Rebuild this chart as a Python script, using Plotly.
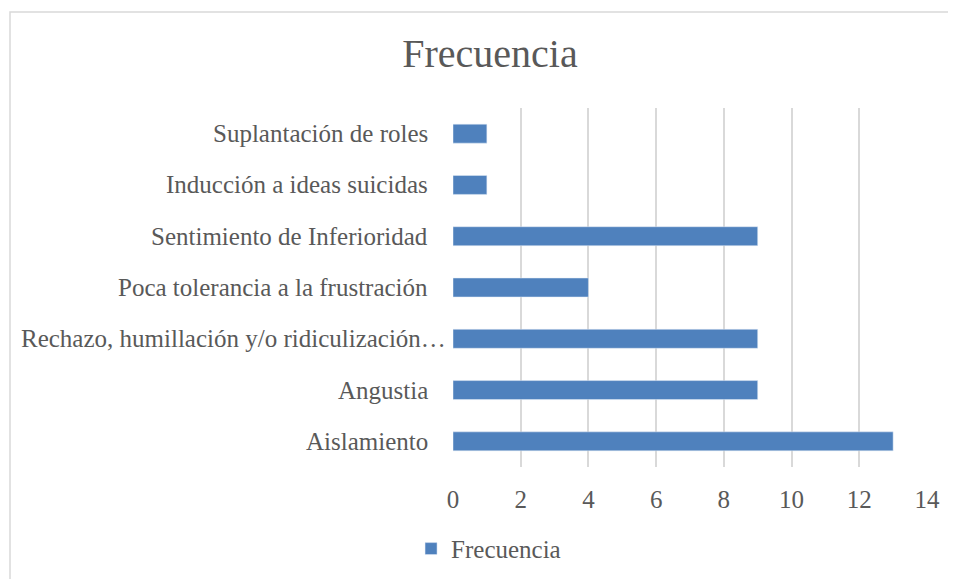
import plotly.graph_objects as go

categorias = [
    "Aislamiento",
    "Angustia",
    "Rechazo, humillación y/o ridiculización…",
    "Poca tolerancia a la frustración",
    "Sentimiento de Inferioridad",
    "Inducción a ideas suicidas",
    "Suplantación de roles",
]
frecuencia = [13, 9, 9, 4, 9, 1, 1]
ticks_x = [0, 2, 4, 6, 8, 10, 12, 14]

gris = "#595959"
fuente = "Liberation Serif"

fig = go.Figure(
    go.Bar(
        x=frecuencia,
        y=categorias,
        orientation="h",
        name="Frecuencia",
        marker=dict(color="#4f81bd"),
    )
)

# page body has an 8px margin, so the figure is drawn at (8, 8)
# plot area on screen: x 453..927, y 108..467
W, H = 948, 571
fig.update_layout(
    width=W,
    height=H,
    margin=dict(l=445, r=29, t=100, b=112, autoexpand=False),
    paper_bgcolor="white",
    plot_bgcolor="white",
    font=dict(family=fuente, size=25, color=gris),
    bargap=0.63,
    title=dict(
        text="Frecuencia",
        font=dict(family=fuente, size=40, color=gris),
        xref="paper", x=0.078, xanchor="center",
        yref="container", y=1 - 45 / H, yanchor="middle",
    ),
    showlegend=True,
    legend=dict(
        orientation="h",
        xref="paper", x=0.075, xanchor="center",
        yref="paper", y=-0.228, yanchor="middle",
        font=dict(family=fuente, size=25, color=gris),
    ),
    xaxis=dict(
        range=[0, 14],
        tickvals=ticks_x,
        showgrid=True,
        gridcolor="#d9d9d9",
        gridwidth=1.5,
        zeroline=False,
        showline=False,
        ticks="",
        ticklabelstandoff=15,
        automargin=False,
        fixedrange=True,
    ),
    yaxis=dict(
        showgrid=False,
        ticks="",
        showticklabels=False,
        showline=False,
        automargin=False,
        fixedrange=True,
    ),
    shapes=[
        dict(
            type="path",
            xref="paper", yref="paper",
            path="M -0.9346,-0.5 L -0.9346,1.2674 L 1.2,1.2674",
            line=dict(color="#d9d9d9", width=1.5),
        )
    ],
)

# category labels (the truncated one sits closer to the axis, as in Excel)
for cat in categorias:
    fig.add_annotation(
        x=0, y=cat, xref="x", yref="y",
        text=cat, showarrow=False,
        xanchor="right", yanchor="middle",
        xshift=-5 if cat.endswith("…") else -23,
        font=dict(family=fuente, size=25, color=gris),
    )

fig.write_html("out.html")
